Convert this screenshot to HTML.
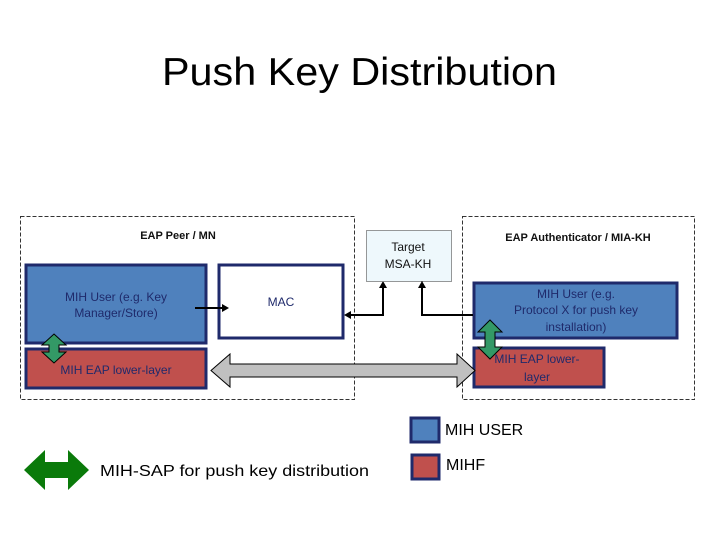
<!DOCTYPE html>
<html><head><meta charset="utf-8"><style>
body{margin:0;width:720px;height:540px;background:#fff;overflow:hidden;font-family:"Liberation Sans",sans-serif}
</style></head><body>
<svg width="720" height="540" xmlns="http://www.w3.org/2000/svg" font-family="Liberation Sans, sans-serif">
<text x="162" y="85" font-size="39" textLength="395" lengthAdjust="spacingAndGlyphs">Push Key Distribution</text>
<rect x="20.5" y="216.5" width="334" height="183" fill="none" stroke="#333" stroke-dasharray="4,2"/>
<rect x="462.5" y="216.5" width="232" height="183" fill="none" stroke="#333" stroke-dasharray="4,2"/>
<rect x="366.5" y="230.5" width="85" height="51" fill="#eef8fc" stroke="#333" stroke-dasharray="1,1"/>
<g font-size="12" text-anchor="middle" fill="#111" font-weight="bold">
<text x="178" y="239" font-size="11">EAP Peer / MN</text>
<text x="578" y="241" font-size="11">EAP Authenticator / MIA-KH</text>
<text x="408" y="251" font-weight="normal">Target</text><text x="408" y="268" font-weight="normal">MSA-KH</text>
</g>
<!-- left -->
<rect x="26" y="265" width="180" height="78" fill="#4f81bd" stroke="#1f2a6b" stroke-width="3"/>
<rect x="219" y="265" width="124" height="73" fill="#fff" stroke="#1f2a6b" stroke-width="3"/>
<rect x="26" y="349" width="180" height="39" fill="#c0504d" stroke="#1f2a6b" stroke-width="3"/>
<g font-size="12" text-anchor="middle" fill="#1f2a6b">
<text x="116" y="301">MIH User (e.g. Key</text><text x="116" y="317">Manager/Store)</text>
<text x="281" y="306">MAC</text>
<text x="116" y="374">MIH EAP lower-layer</text>
</g>
<!-- right -->
<rect x="474" y="283" width="203" height="55" fill="#4f81bd" stroke="#1f2a6b" stroke-width="3"/>
<rect x="474" y="348" width="130" height="39" fill="#c0504d" stroke="#1f2a6b" stroke-width="3"/>
<g font-size="12" text-anchor="middle" fill="#1f2a6b">
<text x="576" y="298">MIH User (e.g.</text><text x="576" y="314">Protocol X for push key</text><text x="576" y="331">installation)</text>
<text x="537" y="363">MIH EAP lower-</text><text x="537" y="381">layer</text>
</g>
<!-- gray double arrow -->
<polygon points="211,370.5 230,354 230,364 457,364 457,354 475,370.5 457,387 457,377 230,377 230,387" fill="#c0c0c0" stroke="#000" stroke-width="1"/>
<!-- connectors -->
<g stroke="#000" stroke-width="2" fill="none">
<line x1="195" y1="308" x2="224" y2="308"/>
<polyline points="383,285 383,315 350,315"/>
<polyline points="473,315 422,315 422,285"/>
</g>
<g fill="#000">
<polygon points="229,308 222,304 222,312"/>
<polygon points="344,315 351,311 351,319"/>
<polygon points="383,281 379,288 387,288"/>
<polygon points="422,281 418,288 426,288"/>
</g>
<!-- green vertical arrows -->
<polygon points="54,334 66,345 59,345 59,352 66,352 54,363 42,352 49,352 49,345 42,345" fill="#339966" stroke="#000" stroke-width="1"/>
<polygon points="490,320 502,332 495,332 495,347 502,347 490,359 478,347 485,347 485,332 478,332" fill="#339966" stroke="#000" stroke-width="1"/>
<!-- legend -->
<polygon points="24,470 45,450 45,462 68,462 68,450 89,470 68,490 68,478 45,478 45,490" fill="#0a7a0a"/>
<text x="100" y="476" font-size="16" textLength="269" lengthAdjust="spacingAndGlyphs">MIH-SAP for push key distribution</text>
<rect x="411" y="418" width="28" height="24" fill="#4f81bd" stroke="#1f2a6b" stroke-width="3"/>
<rect x="412" y="455" width="27" height="24" fill="#c0504d" stroke="#1f2a6b" stroke-width="3"/>
<text x="445" y="435" font-size="16">MIH USER</text>
<text x="446" y="470" font-size="16">MIHF</text>
</svg>
</body></html>
